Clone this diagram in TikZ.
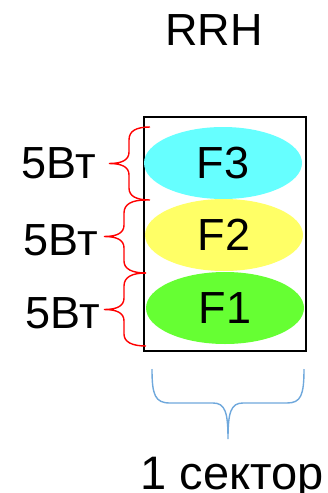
\documentclass[tikz,border=0pt]{standalone}
\usepackage{fontspec}
\setmainfont{Liberation Sans}
\usepackage{tikz}
\usetikzlibrary{shapes.geometric}

\definecolor{goluboy}{HTML}{66FFFF}
\definecolor{zholty}{HTML}{FFFF66}
\definecolor{zelyony}{HTML}{66FF33}
\definecolor{skobka}{HTML}{6FA8DC}

\begin{document}
\begin{tikzpicture}[x=1pt, y=-1pt,
    bigtext/.style={font=\fontsize{45}{54}\selectfont, inner sep=0pt},
    freq/.style={ellipse, draw=none, bigtext, minimum width=158pt, minimum height=72pt},
    redbrace/.style={draw=red, line width=1.4pt},
    bluebrace/.style={draw=skobka, line width=1.4pt}]
	\useasboundingbox (0,0) rectangle (327,493);

	% Блок RRH
	\node[draw, line width=1.5pt, minimum width=162pt, minimum height=234pt, inner sep=0pt] (box) at (225,234) {};
	\node[bigtext] (rrh) at (214,30) {RRH};

	% Частоты
	\node[freq, fill=goluboy] (f3) at (223,163) {F3};
	\node[freq, fill=zholty] (f2) at (224,235) {F2};
	\node[freq, fill=zelyony] (f1) at (225,308) {F1};

	% Мощности
	\node[bigtext] (p3) at (59,163) {5Вт};
	\node[bigtext] (p2) at (61,240) {5Вт};
	\node[bigtext] (p1) at (63,313) {5Вт};

	% Красные скобки
	\draw[redbrace] (150,127) .. controls (136,127) and (129,131) .. (129,140) -- (129,152)
		.. controls (129,160) and (122,163.5) .. (109,163.5)
		.. controls (122,163.5) and (129,167) .. (129,175) -- (129,188)
		.. controls (129,196) and (136,200) .. (150,200);
	\draw[redbrace] (146,200) .. controls (132,200) and (124,204) .. (124,213) -- (124,225)
		.. controls (124,233) and (117,236.5) .. (104,236.5)
		.. controls (117,236.5) and (124,240) .. (124,248) -- (124,261)
		.. controls (124,269) and (132,273) .. (146,273);
	\draw[redbrace] (146,273) .. controls (132,273) and (124,277) .. (124,286) -- (124,298)
		.. controls (124,306) and (117,309.5) .. (104,309.5)
		.. controls (117,309.5) and (124,313) .. (124,321) -- (124,334)
		.. controls (124,342) and (132,346) .. (146,346);

	% Синяя скобка снизу
	\draw[bluebrace] (152,369) .. controls (152,395) and (155,403) .. (170,403) -- (213,403)
		.. controls (225,403) and (228,412) .. (228,439)
		.. controls (228,412) and (231,403) .. (243,403) -- (287,403)
		.. controls (301,403) and (304,395) .. (304,369);
	\node[bigtext, font=\fontsize{47}{56}\selectfont, anchor=base] (sector) at (232,489) {1 сектор};
\end{tikzpicture}
\end{document}
